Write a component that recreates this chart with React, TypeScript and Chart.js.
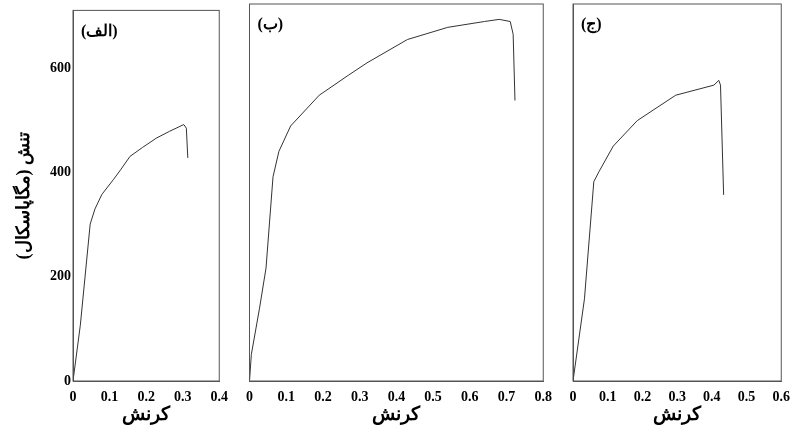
import React, { useEffect, useRef } from "react";
import { Chart, registerables } from "chart.js";
Chart.register(...registerables);

const panelLabels = ["(الف)", "(ب)", "(ج)"];
const xTitle = "کرنش";
const yTitle = "تنش (مگاپاسکال)";
const yTicks = [0, 200, 400, 600];

const strainA = [0, 0.02, 0.047, 0.06, 0.079, 0.11, 0.13, 0.156, 0.19, 0.228, 0.264, 0.303, 0.31, 0.314];
const stressA = [0, 107, 301, 330, 358, 386, 405, 431, 448, 466, 479, 492, 485, 428];
const strainB = [0, 0.005, 0.027, 0.045, 0.064, 0.08, 0.112, 0.19, 0.27, 0.32, 0.43, 0.54, 0.64, 0.68, 0.71, 0.718, 0.723];
const stressB = [0, 50, 136, 213, 385, 433, 481, 539, 577, 600, 644, 667, 678, 682, 678, 654, 529];
const strainC = [0, 0.033, 0.06, 0.075, 0.116, 0.185, 0.296, 0.406, 0.42, 0.425, 0.434];
const stressC = [0, 155, 376, 395, 443, 491, 539, 558, 567, 558, 351];

const xMaxes = [0.4, 0.8, 0.6];

const FONT = "Liberation Serif";

type P = { idx: number; xs: number[]; ys: number[]; left: number; width: number; areaLeft: number; areaRight: number; showY: boolean };

function Panel(p: P) {
  const ref = useRef<HTMLCanvasElement>(null);
  useEffect(() => {
    const frame = {
      id: "frame",
      afterDraw(c: any) {
        const { ctx, chartArea: a } = c;
        ctx.save();
        ctx.strokeStyle = "#555";
        ctx.lineWidth = 1;
        ctx.strokeRect(a.left, a.top, a.right - a.left, a.bottom - a.top);
        ctx.fillStyle = "#000";
        ctx.font = "bold 16px " + FONT;
        ctx.textAlign = "left";
        ctx.textBaseline = "middle";
        ctx.fillText(panelLabels[p.idx], a.left + 8, a.top + 21);
        ctx.restore();
      },
    };
    const chart = new Chart(ref.current!, {
      type: "line",
      data: { datasets: [{ data: p.xs.map((x, i) => ({ x, y: p.ys[i] })), borderColor: "#333", borderWidth: 1, pointRadius: 0, tension: 0 }] },
      options: {
        animation: false, responsive: false,
        layout: { padding: { top: 4, right: p.width - p.areaRight, left: 0, bottom: 0 } },
        plugins: { legend: { display: false }, tooltip: { enabled: false } },
        scales: {
          x: {
            type: "linear", min: 0, max: xMaxes[p.idx],
            grid: { display: false, drawTicks: false }, border: { color: "#555" },
            ticks: { stepSize: 0.1, color: "#000", padding: 8, font: { family: FONT, weight: "bold", size: 14 }, callback: (v: any) => (v === 0 ? "0" : Number(v).toFixed(1)) },
            title: { display: true, text: xTitle, color: "#000", font: { family: FONT, weight: "bold", size: 19 }, padding: { top: 0, bottom: 8 } },
            afterFit: (s: any) => { s.height = 53; },
          },
          y: {
            min: 0, max: 711,
            grid: { display: false, drawTicks: false }, border: { color: "#555" },
            afterBuildTicks: (s: any) => { s.ticks = yTicks.map((v) => ({ value: v })); },
            ticks: { display: p.showY, color: "#000", padding: 2, font: { family: FONT, weight: "bold", size: 14 } },
            title: { display: p.showY, text: yTitle, color: "#000", font: { family: FONT, weight: "bold", size: 18 }, padding: { top: 14, bottom: 0 } },
            afterFit: (s: any) => { s.width = p.areaLeft; },
          },
        },
      },
      plugins: [frame],
    } as any);
    return () => chart.destroy();
  }, []);
  return <canvas ref={ref} width={p.width} height={434} style={{ position: "absolute", left: p.left, top: 0, width: p.width, height: 434 }} />;
}

export default function App() {
  return (
    <div style={{ position: "fixed", left: 0, top: 0, width: 798, height: 434, background: "#fff" }}>
      <Panel idx={0} xs={strainA} ys={stressA} left={0} width={236} areaLeft={73} areaRight={220} showY={true} />
      <Panel idx={1} xs={strainB} ys={stressB} left={238} width={322} areaLeft={10} areaRight={311} showY={false} />
      <Panel idx={2} xs={strainC} ys={stressC} left={560} width={238} areaLeft={13} areaRight={230} showY={false} />
    </div>
  );
}
